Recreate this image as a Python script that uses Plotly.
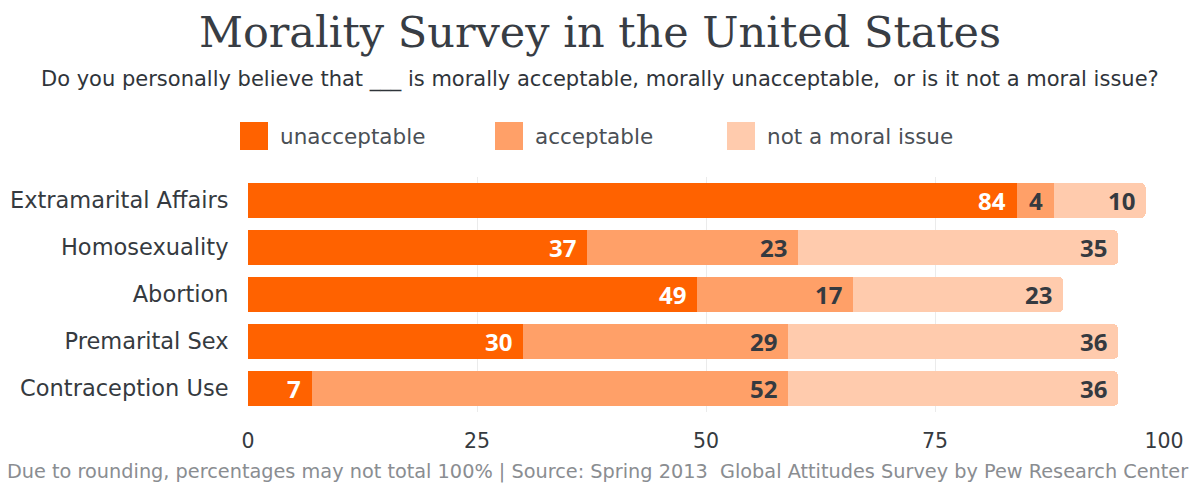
import plotly.graph_objects as go

categories = ["Extramarital Affairs", "Homosexuality", "Abortion", "Premarital Sex", "Contraception Use"]
unacceptable = [84, 37, 49, 30, 7]
acceptable = [4, 23, 17, 29, 52]
not_moral = [10, 35, 23, 36, 36]
series_names = ["unacceptable", "acceptable", "not a moral issue"]
colors = ["#FF6200", "#FFA068", "#FFCBAD"]
label_colors = ["white", "#353a40", "#353a40"]
x_ticks = [0, 25, 50, 75, 100]

title = "Morality Survey in the United States"
subtitle = "Do you personally believe that ___ is morally acceptable, morally unacceptable,  or is it not a moral issue?"
footer = "Due to rounding, percentages may not total 100% | Source: Spring 2013  Global Attitudes Survey by Pew Research Center"

SANS = "DejaVu Sans, sans-serif"
NUM = "Open Sans, Noto Sans, sans-serif"
W, H = 1197, 484
ML, MR, MT, MB = 248, 33, 177, 72
PW, PH = W - ML - MR, H - MT - MB


def px_x(px):
    return (px - ML) / PW


def px_y(py):
    return (H - MB - py) / PH


fig = go.Figure()
series = [unacceptable, acceptable, not_moral]
for name, vals, col in zip(series_names, series, colors):
    fig.add_trace(go.Bar(
        y=categories, x=vals, name=name, orientation="h",
        marker=dict(color=col, line=dict(width=0)),
        hoverinfo="x+name", showlegend=False,
    ))

annotations = []
# value labels at the right end of each segment
for si, vals in enumerate(series):
    for ci, cat in enumerate(categories):
        cum = sum(series[k][ci] for k in range(si + 1))
        annotations.append(dict(
            x=cum, y=cat, xref="x", yref="y", text=f"<b>{vals[ci]}</b>", showarrow=False,
            xanchor="right", xshift=-9,
            font=dict(family=NUM, size=24, color=label_colors[si]),
        ))

# custom legend (large square swatches)
legend_swatch_px = [240, 495, 727]
shapes = []
for name, col, lx in zip(series_names, colors, legend_swatch_px):
    shapes.append(dict(
        type="rect", xref="paper", yref="paper",
        x0=px_x(lx), x1=px_x(lx + 28), y0=px_y(150), y1=px_y(122),
        fillcolor=col, line=dict(width=0),
    ))
    annotations.append(dict(
        text=name, xref="paper", yref="paper", x=px_x(lx + 38), y=px_y(136),
        xanchor="left", yanchor="middle", showarrow=False,
        font=dict(family=SANS, size=21.5, color="#4a4f55"),
    ))

annotations.append(dict(
    text=subtitle, xref="paper", yref="paper", x=px_x(600), y=px_y(79),
    xanchor="center", yanchor="middle", showarrow=False,
    font=dict(family=SANS, size=21, color="#2f343a"),
))
annotations.append(dict(
    text=footer, xref="paper", yref="paper", x=px_x(597), y=px_y(471),
    xanchor="center", yanchor="middle", showarrow=False,
    font=dict(family=SANS, size=19.3, color="#8a8d91"),
))

fig.update_layout(
    width=W, height=H,
    barmode="stack", bargap=0.25, barcornerradius=5,
    plot_bgcolor="white", paper_bgcolor="white",
    margin=dict(l=ML, r=MR, t=MT, b=MB, autoexpand=False),
    showlegend=False,
    title=dict(text=title, x=px_x(600), xref="paper", xanchor="center",
               y=1 - 32 / H, yref="container", yanchor="middle",
               font=dict(family="DejaVu Serif, serif", size=43, color="#383d44")),
    xaxis=dict(
        range=[0, 100], tickvals=x_ticks, showgrid=True, gridcolor="#ebebeb",
        zeroline=False, showline=False,
        tickfont=dict(family=SANS, size=20.5, color="#353a40"),
        ticks="outside", ticklen=10, tickcolor="rgba(0,0,0,0)",
    ),
    yaxis=dict(
        autorange="reversed", showgrid=False, zeroline=False, showline=False,
        tickfont=dict(family=SANS, size=22.5, color="#353a40"),
        ticks="outside", ticklen=14, tickcolor="rgba(0,0,0,0)",
    ),
    annotations=annotations, shapes=shapes,
)
fig.write_html("out.html", config={"displayModeBar": False},
               post_script="document.body.style.margin='0';")
